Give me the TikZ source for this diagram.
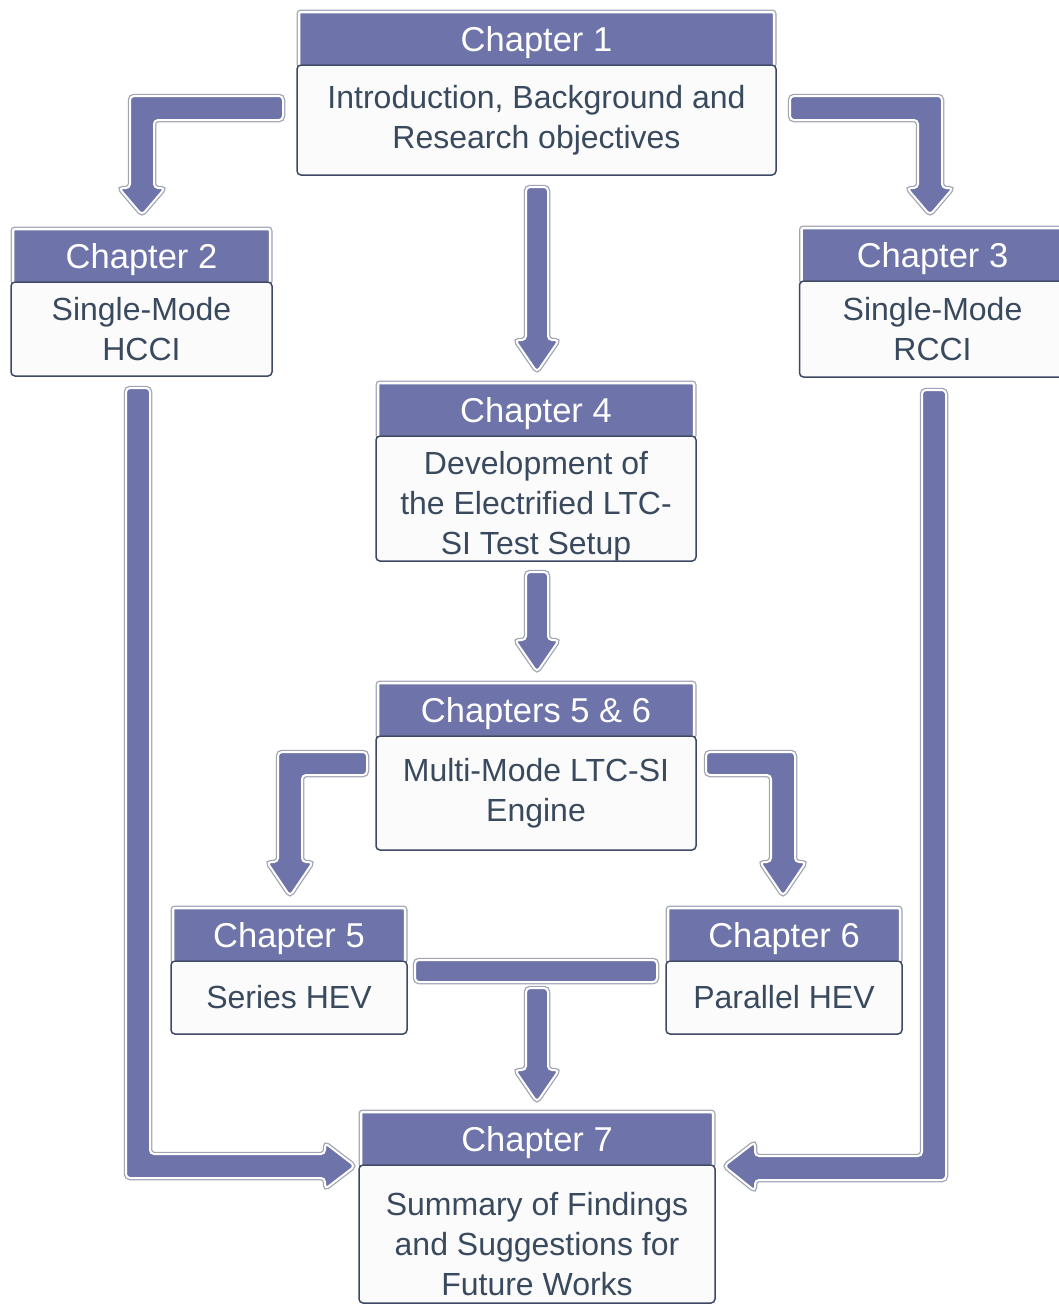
\documentclass[tikz,border=0pt]{standalone}
\usepackage{fontspec}
\setmainfont{Liberation Sans}
\usetikzlibrary{positioning}
\definecolor{hdr}{RGB}{110,116,170}
\definecolor{bdr}{RGB}{62,72,100}
\definecolor{txt}{RGB}{58,74,94}
\definecolor{rim}{RGB}{160,163,180}
\tikzset{
  head/.style={fill=hdr, draw=white, line width=2.5pt, rounded corners=2pt,
    preaction={draw=rim, line width=5pt}, text=white, inner sep=0pt,
    outer sep=0pt, minimum height=54, text height=24.7pt, text depth=0pt,
    font=\fontsize{34.5}{40}\selectfont},
  body/.style={fill=gray!3, draw=bdr, line width=1.5pt, rounded corners=4pt,
    text=txt, align=center, inner sep=0pt, outer sep=0pt,
    font=\fontsize{32}{40}\selectfont},
  flow/.style={fill=hdr, draw=white, line width=2pt, rounded corners=4pt,
    preaction={draw=rim, line width=4.5pt}},
}
\begin{document}
\begin{tikzpicture}[x=1pt,y=-1pt]
\useasboundingbox (0,0) rectangle (1058,1307);
%\draw[step=50,gray,very thin] (0,0) grid (1058,1307);

% block arrows
\draw[flow] (283,96) -- (130,96) -- (130,188) -- (119,188) -- (142,215) -- (165,188) -- (154,188) -- (154,120) -- (283,120) -- cycle;
\draw[flow] (790,96) -- (942,96) -- (942,188) -- (953,188) -- (930,215) -- (907,188) -- (918,188) -- (918,120) -- (790,120) -- cycle;
\draw[flow] (526,187) -- (526,340) -- (515,340) -- (537,372) -- (559,340) -- (548,340) -- (548,187) -- cycle;
\draw[flow] (526,572) -- (526,640) -- (515,640) -- (537,672) -- (559,640) -- (548,640) -- (548,572) -- cycle;
\draw[flow] (367,752) -- (278,752) -- (278,862) -- (267,862) -- (290,896) -- (313,862) -- (302,862) -- (302,775) -- (367,775) -- cycle;
\draw[flow] (706,752) -- (795,752) -- (795,862) -- (806,862) -- (783,896) -- (760,862) -- (771,862) -- (771,775) -- (706,775) -- cycle;
\draw[flow] (415,960) rectangle (657,982);
\draw[flow] (526,988) -- (526,1070) -- (515,1070) -- (537,1102) -- (559,1070) -- (548,1070) -- (548,988) -- cycle;
\draw[flow] (126,388) -- (126,1178) -- (325,1178) -- (325,1189) -- (355,1166) -- (325,1143) -- (325,1154) -- (150,1154) -- (150,388) -- cycle;
\draw[flow] (946,390) -- (946,1180) -- (755,1180) -- (755,1191) -- (724,1166) -- (755,1142) -- (755,1156) -- (922,1156) -- (922,390) -- cycle;

% chapter boxes
\node[head, minimum width=475] (ch1h) at (536.5,39) {Chapter 1};
\node[body, minimum width=479, minimum height=110, below=1 of ch1h] (ch1b) {Introduction, Background and\\Research objectives};

\node[head, minimum width=257] (ch2h) at (141.5,256) {Chapter 2};
\node[body, minimum width=261, minimum height=94, below=1 of ch2h] (ch2b) {Single-Mode\\HCCI};

\node[head, minimum width=262] (ch3h) at (932.5,255) {Chapter 3};
\node[body, minimum width=266, minimum height=96, below=1 of ch3h] (ch3b) {Single-Mode\\RCCI};

\node[head, minimum width=316] (ch4h) at (536,410) {Chapter 4};
\node[body, minimum width=320, minimum height=125, below=1 of ch4h] (ch4b) {\rule{0pt}{1.2em}Development of\\the Electrified LTC-\\SI Test Setup};

\node[head, minimum width=316] (ch56h) at (536,710) {Chapters 5 \& 6};
\node[body, minimum width=320, minimum height=114, below=1 of ch56h] (ch56b) {Multi-Mode LTC-SI\\Engine};

\node[head, minimum width=232] (ch5h) at (289,935) {Chapter 5};
\node[body, minimum width=236, minimum height=73, below=1 of ch5h] (ch5b) {Series HEV};

\node[head, minimum width=232] (ch6h) at (784,935) {Chapter 6};
\node[body, minimum width=236, minimum height=73, below=1 of ch6h] (ch6b) {Parallel HEV};

\node[head, minimum width=352] (ch7h) at (537,1139) {Chapter 7};
\node[body, minimum width=356, minimum height=138, below=1 of ch7h] (ch7b) {\rule{0pt}{1.35em}Summary of Findings\\and Suggestions for\\Future Works};
\end{tikzpicture}
\end{document}
